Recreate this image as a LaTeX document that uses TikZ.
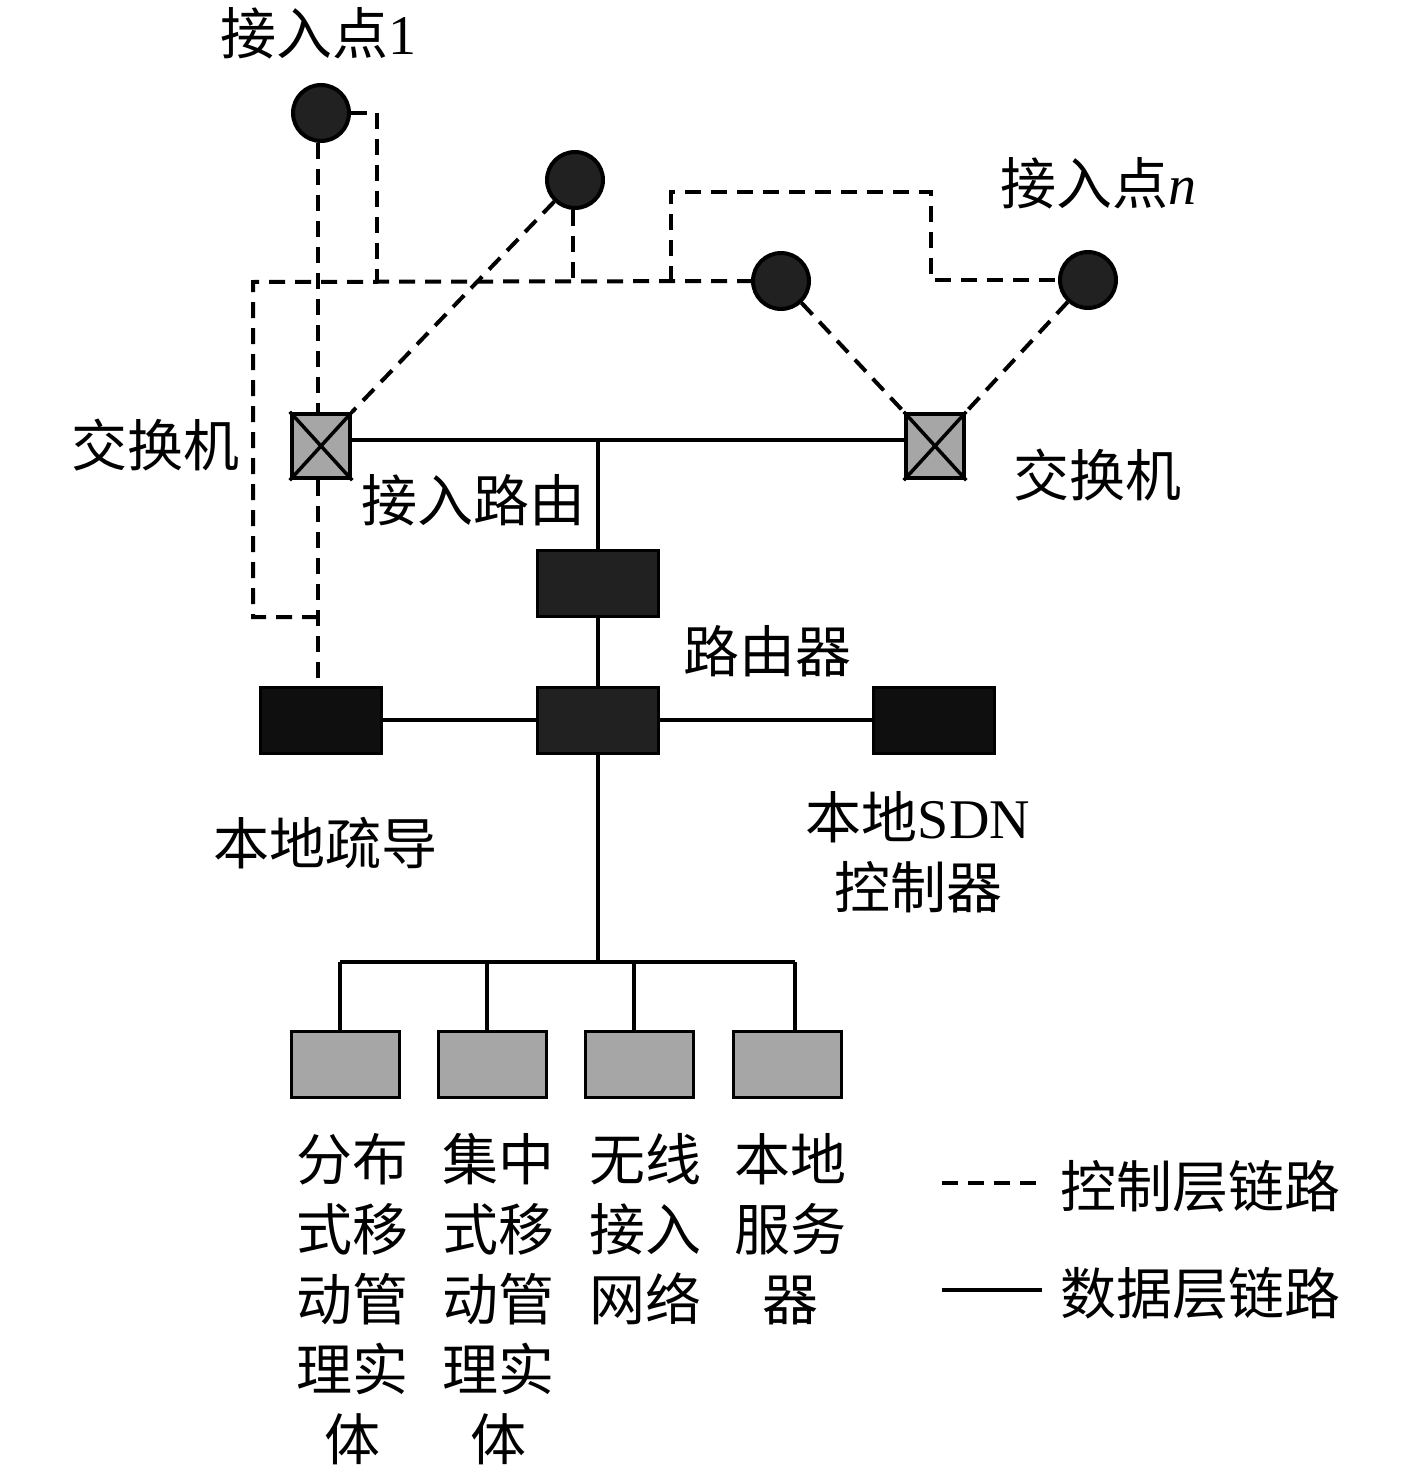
\documentclass[tikz,border=0pt]{standalone}
\usepackage{fontspec}
\setmainfont{Liberation Serif}
\newfontfamily\cjk{Noto Sans CJK SC}
\begin{document}
\begin{tikzpicture}[x=1pt,y=-1pt,
  ctrl/.style={line width=4pt,dash pattern=on 16pt off 10pt},
  data/.style={line width=4pt},
  ap/.style={circle,draw=black,line width=4pt,fill=black!87,minimum size=56pt,inner sep=0pt},
  sw/.style={rectangle,draw=black,line width=4.5pt,fill=black!35,minimum width=58pt,minimum height=64pt,inner sep=0pt},
  dbox/.style={rectangle,draw=black,line width=3pt,fill=black!87,minimum width=121pt,minimum height=66pt,inner sep=0pt},
  kbox/.style={rectangle,draw=black,line width=3pt,fill=black!94,minimum width=121pt,minimum height=66pt,inner sep=0pt},
  gbox/.style={rectangle,draw=black,line width=3pt,fill=black!35,minimum width=108pt,minimum height=66pt,inner sep=0pt},
  lbl/.style={font=\fontsize{56}{70}\selectfont\cjk,inner sep=0pt,align=center}]
\useasboundingbox (0,0) rectangle (1417,1474);

% access points
\node[ap] (ap1) at (321,113) {};
\node[ap] (ap2) at (575,180) {};
\node[ap] (ap3) at (781,281) {};
\node[ap] (apn) at (1088,280) {};
% switches
\node[sw] (swL) at (321,446) {};
\node[sw] (swR) at (935,446) {};
\foreach \s in {swL,swR}{
  \draw[line width=3.5pt] (\s.south west) -- (\s.north east) (\s.north west) -- (\s.south east);
}
% routers etc
\node[dbox] (ar) at (598,583) {};
\node[dbox] (rt) at (598,720) {};
\node[kbox] (off) at (321,720) {};
\node[kbox] (sdn) at (934,720) {};
\node[gbox] (d1) at (345,1064) {};
\node[gbox] (d2) at (492,1064) {};
\node[gbox] (d3) at (639,1064) {};
\node[gbox] (d4) at (787,1064) {};

% coordinates
\coordinate (t) at (598,440);
\coordinate (b) at (598,962);
\coordinate (p1) at (340,962);
\coordinate (p2) at (487,962);
\coordinate (p3) at (634,962);
\coordinate (p4) at (795,962);
\coordinate (j1) at (318,617);
\coordinate (cL) at (253,282);
\coordinate (j2) at (377,282);
\coordinate (j3) at (573,282);
\coordinate (j4) at (671,282);
\coordinate (k1) at (931,192);

% data links
\draw[data] (swL.east |- t) -- (swR.west |- t);
\draw[data] (t) -- (ar.north);
\draw[data] (ar) -- (rt);
\draw[data] (off) -- (rt);
\draw[data] (rt) -- (sdn);
\draw[data] (rt.south) -- (b);
\draw[data] (p1) -- (p4);
\draw[data] (p1) -- (d1.north -| p1);
\draw[data] (p2) -- (d2.north -| p2);
\draw[data] (p3) -- (d3.north -| p3);
\draw[data] (p4) -- (d4.north -| p4);

% control links
\draw[ctrl] (ap1.south -| j1) -- (swL.north -| j1);
\draw[ctrl] (swL.south -| j1) -- (off.north -| j1);
\draw[ctrl] (j1) -| (cL) -- (ap3.west);
\draw[ctrl] (ap1.east) -| (j2);
\draw[ctrl] (ap2.south -| j3) -- (j3);
\draw[ctrl] (ap2) -- (swL.north east);
\draw[ctrl] (j4) |- (k1) |- (apn.west);
\draw[ctrl] (ap3) -- (swR.north west);
\draw[ctrl] (apn) -- (swR.north east);

% labels
\node[lbl] (l1) at (318,33) {接入点{\rmfamily 1}};
\node[lbl] (l2) at (1098,183) {接入点{\rmfamily\itshape n}};
\node[lbl] (l3) at (155,445) {交换机};
\node[lbl] (l4) at (1097,475) {交换机};
\node[lbl] (l5) at (473,500) {接入路由};
\node[lbl] (l6) at (767,651) {路由器};
\node[lbl] (l7) at (325,843) {本地疏导};
\node[lbl] (l8) at (918,852) {本地{\rmfamily SDN}\\控制器};
\node[lbl,anchor=north] (b1) at (352,1133) {分布\\式移\\动管\\理实\\体};
\node[lbl,anchor=north] (b2) at (498,1133) {集中\\式移\\动管\\理实\\体};
\node[lbl,anchor=north] (b3) at (645,1133) {无线\\接入\\网络};
\node[lbl,anchor=north] (b4) at (790,1133) {本地\\服务\\器};

% legend
\coordinate (g1) at (942,1183);
\coordinate (g2) at (1042,1183);
\coordinate (g3) at (942,1290);
\coordinate (g4) at (1042,1290);
\draw[ctrl] (g1) -- (g2);
\draw[data] (g3) -- (g4);
\node[lbl,anchor=west] (lg1) at (1060,1186) {控制层链路};
\node[lbl,anchor=west] (lg2) at (1060,1293) {数据层链路};
\end{tikzpicture}
\end{document}
